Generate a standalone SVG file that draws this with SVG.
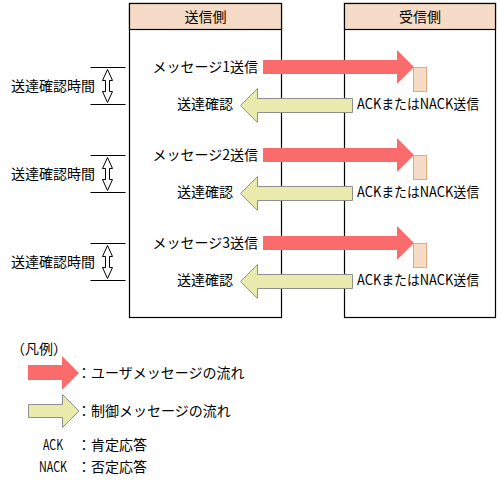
<svg xmlns="http://www.w3.org/2000/svg" width="499" height="486" viewBox="0 0 499 486">
<defs>
<style>
text{font-family:"Noto Sans CJK JP","Noto Sans CJK SC",sans-serif;font-size:14px;fill:#000}
.box{fill:#fff;stroke:#000;stroke-width:1.2}
.hdr{fill:#F6DCC6;stroke:#000;stroke-width:1.2}
.red{fill:#FA6B6B;stroke:none}
.grn{fill:#E9EAAB;stroke:#8E8E8E;stroke-width:1}
.proc{fill:#F6DCC6;stroke:#E2A878;stroke-width:1}
.dim{stroke:#000;stroke-width:1;fill:none}
</style>
<polygon id="redArrow" points="0,10 134,10 134,0 151,17 134,34 134,24 0,24"/>
<polygon id="grnArrow" points="112,10 17,10 17,0 0,17 17,34 17,24 112,24"/>
<g id="dimMark">
<line x1="90" y1="0" x2="125" y2="0"/>
<line x1="90" y1="37" x2="125" y2="37"/>
<polygon points="107,2 112,13 109,13 109,24 112,24 107,35 102,24 105,24 105,13 102,13"/>
</g>
</defs>

<g id="sender">
<rect class="box" x="129.5" y="3.5" width="152" height="314"/>
<rect class="hdr" x="129.5" y="3.5" width="152" height="26"/>
<text x="205.5" y="21.5" text-anchor="middle">送信側</text>
</g>
<g id="receiver">
<rect class="box" x="344.5" y="3.5" width="151" height="314"/>
<rect class="hdr" x="344.5" y="3.5" width="151" height="26"/>
<text x="420" y="21.5" text-anchor="middle">受信側</text>
</g>

<g id="connectors">
<use href="#redArrow" class="red" x="263" y="50"/>
<use href="#redArrow" class="red" x="263" y="138"/>
<use href="#redArrow" class="red" x="263" y="226"/>
<use href="#grnArrow" class="grn" x="240.5" y="88.5"/>
<use href="#grnArrow" class="grn" x="240.5" y="176.5"/>
<use href="#grnArrow" class="grn" x="240.5" y="264.5"/>
<use href="#dimMark" class="dim" x="0.5" y="67.5"/>
<use href="#dimMark" class="dim" x="0.5" y="155.5"/>
<use href="#dimMark" class="dim" x="0.5" y="243.5"/>
</g>

<g id="row1">
<text x="258" y="72" text-anchor="end">メッセージ1送信</text>
<rect class="proc" x="413.5" y="67.5" width="13" height="24"/>
<text x="233" y="109" text-anchor="end">送達確認</text>
<text x="357" y="109" textLength="122" lengthAdjust="spacingAndGlyphs">ACKまたはNACK送信</text>
<text x="11" y="91">送達確認時間</text>
</g>
<g id="row2">
<text x="258" y="160" text-anchor="end">メッセージ2送信</text>
<rect class="proc" x="413.5" y="155.5" width="13" height="24"/>
<text x="233" y="197" text-anchor="end">送達確認</text>
<text x="357" y="197" textLength="122" lengthAdjust="spacingAndGlyphs">ACKまたはNACK送信</text>
<text x="11" y="179">送達確認時間</text>
</g>
<g id="row3">
<text x="258" y="248" text-anchor="end">メッセージ3送信</text>
<rect class="proc" x="413.5" y="243.5" width="13" height="24"/>
<text x="233" y="285" text-anchor="end">送達確認</text>
<text x="357" y="285" textLength="122" lengthAdjust="spacingAndGlyphs">ACKまたはNACK送信</text>
<text x="11" y="267">送達確認時間</text>
</g>

<g id="legend">
<text x="11" y="354">（凡例）</text>
<polygon class="red" points="28,365 62,365 62,356 79,373 62,390 62,380 28,380"/>
<text x="77" y="378">：ユーザメッセージの流れ</text>
<polygon class="grn" points="28.5,404.5 62.5,404.5 62.5,394.5 79,411 62.5,427.5 62.5,417.5 28.5,417.5"/>
<text x="77" y="416">：制御メッセージの流れ</text>
<text x="43" y="450" textLength="20" lengthAdjust="spacingAndGlyphs">ACK</text>
<text x="77" y="450">：肯定応答</text>
<text x="39" y="472" textLength="28" lengthAdjust="spacingAndGlyphs">NACK</text>
<text x="77" y="472">：否定応答</text>
</g>
</svg>
